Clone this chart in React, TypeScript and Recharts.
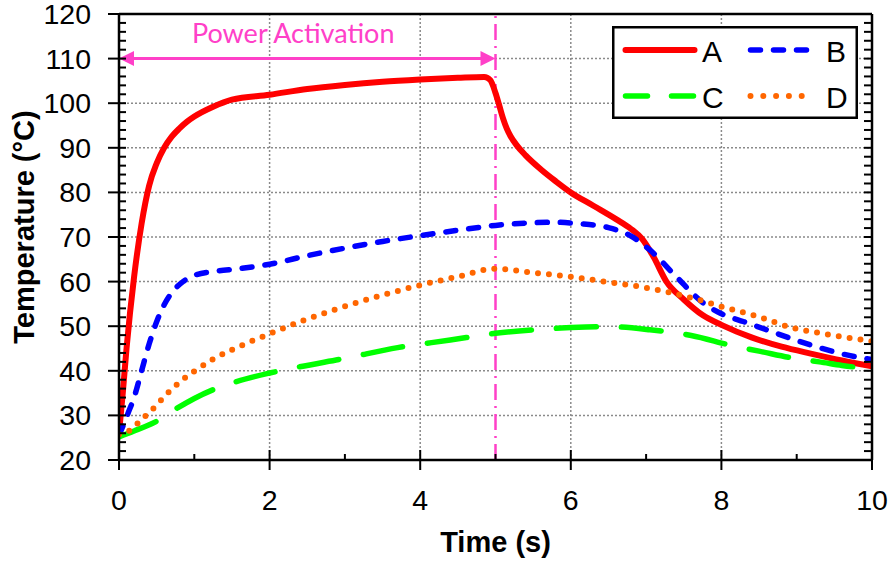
import React from "react";
import { LineChart, Line, XAxis, YAxis, CartesianGrid, ReferenceLine, Legend } from "recharts";

// [time (s), temperature (°C)]
const seriesA: [number, number][] = [
  [0, 26], [0.05, 35], [0.1, 45], [0.2, 61], [0.3, 73], [0.4, 81.5], [0.5, 86.5], [0.6, 90],
  [0.7, 92.5], [0.8, 94.3], [0.9, 95.8], [1.0, 97], [1.25, 99.2], [1.5, 100.8], [2.0, 101.9],
  [2.5, 103.2], [3.0, 104.1], [3.5, 104.8], [4.0, 105.3], [4.5, 105.7], [4.85, 105.9],
  [4.93, 105.2], [5.0, 102.3], [5.05, 99.5], [5.1, 96.6], [5.15, 94.3], [5.2, 92.6],
  [5.28, 90.6], [5.4, 88.3], [5.6, 85.2], [5.8, 82.5], [6.0, 80], [6.3, 77], [6.6, 74],
  [6.8, 71.8], [6.95, 69.5], [7.1, 65.5], [7.27, 60], [7.5, 56], [7.75, 52.5], [8.0, 50.3],
  [8.4, 47.5], [8.8, 45.4], [9.2, 43.8], [9.6, 42.3], [10, 41],
];

const seriesB: [number, number][] = [
  [0, 25.5], [0.05, 27.5], [0.12, 30.5], [0.2, 34], [0.3, 40], [0.4, 46], [0.5, 51], [0.6, 54.8],
  [0.7, 57.5], [0.85, 60], [1.0, 61.4], [1.27, 62.3], [1.6, 62.9], [2.0, 63.9], [2.5, 65.8],
  [3.0, 67.5], [3.5, 69], [4.0, 70.3], [4.5, 71.5], [5.0, 72.6], [5.5, 73.2], [5.8, 73.3],
  [6.1, 73.0], [6.5, 72.1], [6.8, 70.2], [7.05, 67.1], [7.4, 61.1], [7.76, 55.2], [8.0, 52.8],
  [8.3, 51], [8.6, 49.2], [9.0, 46.8], [9.3, 45.2], [9.6, 43.8], [10, 42.5],
];

const seriesC: [number, number][] = [
  [0, 25.2], [0.2, 26.5], [0.5, 28.7], [0.77, 31.6], [1.0, 33.8], [1.27, 35.9], [1.56, 37.6],
  [2.0, 39.5], [2.4, 40.9], [3.0, 42.8], [3.7, 45.2], [4.4, 46.9], [5.0, 48.4], [5.6, 49.3],
  [6.2, 49.8], [6.5, 49.9], [7.05, 49.2], [7.6, 47.9], [8.15, 45.6], [8.5, 44.4], [9.0, 42.7],
  [9.3, 42.0], [9.6, 41.2], [10, 40.4],
];

const seriesD: [number, number][] = [
  [0, 25.7], [0.15, 26.7], [0.27, 28.6], [0.39, 30.5], [0.5, 32.3], [0.61, 34.4], [0.73, 36.3],
  [0.85, 38.1], [1.0, 39.9], [1.25, 42.6], [1.7, 46.2], [2.0, 48.3], [2.45, 51.3], [2.9, 53.9],
  [3.4, 56.5], [3.7, 57.9], [4.0, 59.2], [4.5, 61.1], [5.0, 62.9], [5.5, 62], [6.0, 61.1],
  [6.45, 60], [6.9, 58.9], [7.25, 57.8], [7.7, 55.9], [8.0, 54.4], [8.5, 52.1], [8.95, 49.6],
  [9.4, 48.2], [10, 46.6],
];

const xTicks = [0, 1, 2, 3, 4, 5, 6, 7, 8, 9, 10];
const xGrid = [2, 4, 6, 8];
const yMajor = [20, 30, 40, 50, 60, 70, 80, 90, 100, 110, 120];
const yTicks = yMajor.flatMap((v) => (v < 120 ? [v, v + 2, v + 4, v + 6, v + 8] : [v]));
const yGrid = [30, 40, 50, 60, 70, 80, 90, 100, 110];
const activationEnd = 5;
const activationLevel = 110;

const PINK = "#FF40C8";
const FONT = "'Liberation Sans', Arial, sans-serif";

const series = [
  { name: "A", points: seriesA, color: "#FF0000", width: 6, dash: undefined, legendDash: undefined },
  { name: "B", points: seriesB, color: "#0000FF", width: 5.5, dash: "10 13", legendDash: "10 13" },
  { name: "C", points: seriesC, color: "#00FF00", width: 5.5, dash: "40 25", legendDash: "22 24" },
  { name: "D", points: seriesD, color: "#FF6600", width: 6, dash: "0 11", legendDash: "0 12.8" },
];

const toRows = (pts: [number, number][]) => pts.map(([t, v]) => ({ t, v }));

const LeftTick = (props: any) => {
  const { x, y, payload } = props;
  const major = payload.value % 10 === 0;
  return (
    <g>
      <line x1={major ? x - 11 : x} x2={x + 7} y1={y} y2={y} stroke="#000" strokeWidth={2} />
      {major && (
        <text x={x - 28} y={y + 10} textAnchor="end" fontSize={28.5} fontFamily={FONT} fill="#000">
          {payload.value}
        </text>
      )}
    </g>
  );
};

const RightTick = (props: any) => {
  const { x, y } = props;
  return <line x1={x - 8} x2={x} y1={y} y2={y} stroke="#000" strokeWidth={2} />;
};

const BottomTick = (props: any) => {
  const { x, y, payload } = props;
  const major = payload.value % 2 === 0;
  return (
    <g>
      <line x1={x} x2={x} y1={major ? y - 10 : y - 6} y2={major ? y + 10 : y} stroke="#000" strokeWidth={2} />
      {major && (
        <text x={x} y={y + 50} textAnchor="middle" fontSize={28.5} fontFamily={FONT} fill="#000">
          {payload.value}
        </text>
      )}
    </g>
  );
};

const ActivationArrow = (p: any) => {
  const { x1, y1, x2 } = p;
  const head = 15;
  const half = 7.5;
  return (
    <g>
      <line x1={x1 + head - 2} x2={x2 - head + 2} y1={y1} y2={y1} stroke={PINK} strokeWidth={3} />
      <polygon points={`${x1},${y1} ${x1 + head},${y1 - half} ${x1 + head},${y1 + half}`} fill={PINK} />
      <polygon points={`${x2},${y1} ${x2 - head},${y1 - half} ${x2 - head},${y1 + half}`} fill={PINK} />
      <text x={(x1 + x2) / 2 - 14} y={y1 - 16} textAnchor="middle" fill={PINK} fontSize={27} fontFamily="Lato, sans-serif">
        Power Activation
      </text>
    </g>
  );
};

const LegendBox = () => (
  <svg width={246} height={93} style={{ display: "block" }}>
    <rect x={1.25} y={1.25} width={243.5} height={90.5} fill="#fff" stroke="#000" strokeWidth={2.5} />
    {series.map((s, i) => {
      const col = i % 2;
      const row = Math.floor(i / 2);
      const y = row ? 70 : 24;
      const x0 = col ? 138.5 : 13.5;
      const x1 = col ? 197.5 : 82.5;
      return (
        <g key={s.name}>
          <line x1={x0} x2={x1} y1={y} y2={y} stroke={s.color} strokeWidth={s.width} strokeDasharray={s.legendDash} strokeLinecap="round" />
          <text x={col ? 214 : 90} y={y + 12} fontSize={30} fontFamily={FONT} fill="#000">
            {s.name}
          </text>
        </g>
      );
    })}
  </svg>
);

export default function App() {
  return (
    <div>
      <style>{"body{margin:0}"}</style>
      <LineChart width={893} height={564} margin={{ top: 14, right: 0, bottom: 0, left: 0 }}>
        <CartesianGrid
          yAxisId="left"
          horizontalValues={yGrid}
          verticalValues={xGrid}
          stroke="#8a8a8a"
          strokeDasharray="2 2"
          strokeWidth={1.5}
        />
        <XAxis
          type="number"
          dataKey="t"
          domain={[0, 10]}
          ticks={xTicks}
          interval={0}
          allowDataOverflow
          height={104}
          tickSize={0}
          tickMargin={0}
          tickLine={false}
          tick={<BottomTick />}
          axisLine={{ stroke: "#000", strokeWidth: 2.5 }}
          label={(p: any) => {
            const vb = p.viewBox || { x: 119, width: 753 };
            return (
              <text x={vb.x + vb.width / 2} y={552} textAnchor="middle" fontSize={29} fontWeight="bold" fontFamily={FONT} fill="#000">
                Time (s)
              </text>
            );
          }}
        />
        <YAxis
          yAxisId="left"
          type="number"
          domain={[20, 120]}
          ticks={yTicks}
          interval={0}
          allowDataOverflow
          width={119}
          tickSize={0}
          tickMargin={0}
          tickLine={false}
          tick={<LeftTick />}
          axisLine={{ stroke: "#000", strokeWidth: 2.5 }}
          label={() => (
            <text transform="translate(34,227) rotate(-90)" textAnchor="middle" fontSize={29} fontWeight="bold" fontFamily={FONT} fill="#000">
              Temperature (°C)
            </text>
          )}
        />
        <YAxis
          yAxisId="right"
          orientation="right"
          type="number"
          domain={[20, 120]}
          ticks={yTicks}
          interval={0}
          allowDataOverflow
          width={21}
          tickSize={0}
          tickMargin={0}
          tickLine={false}
          tick={<RightTick />}
          axisLine={{ stroke: "#000", strokeWidth: 2.5 }}
        />
        <ReferenceLine yAxisId="left" y={120} stroke="#000" strokeWidth={2.5} />
        <ReferenceLine yAxisId="left" x={activationEnd} stroke={PINK} strokeWidth={2.5} strokeDasharray="16 6 2 6" />
        <ReferenceLine
          yAxisId="left"
          segment={[
            { x: 0, y: activationLevel },
            { x: activationEnd, y: activationLevel },
          ]}
          shape={ActivationArrow}
        />
        {series.map((s) => (
          <Line
            key={s.name}
            yAxisId="left"
            name={s.name}
            data={toRows(s.points)}
            dataKey="v"
            type="monotone"
            stroke={s.color}
            strokeWidth={s.width}
            strokeDasharray={s.dash}
            strokeLinecap="round"
            dot={false}
            activeDot={false}
            isAnimationActive={false}
          />
        ))}
        <Legend
          layout="horizontal"
          verticalAlign="middle"
          align="center"
          content={() => <LegendBox />}
          wrapperStyle={{ left: 612, top: 26, width: 246, height: 93 }}
        />
      </LineChart>
    </div>
  );
}
